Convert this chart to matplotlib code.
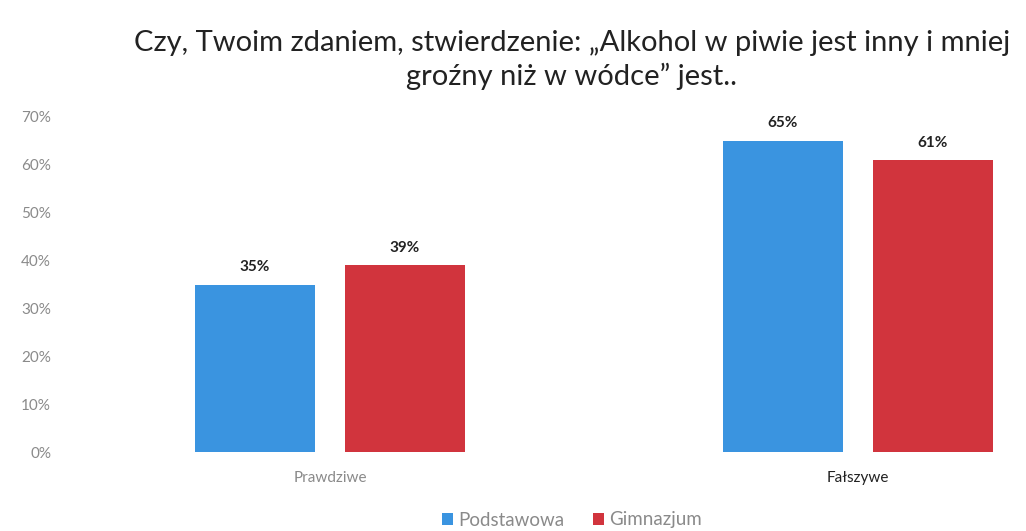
import matplotlib
matplotlib.use("Agg")
import matplotlib.pyplot as plt
import numpy as np

categories = ["Prawdziwe", "Fałszywe"]
series_names = ["Podstawowa", "Gimnazjum"]
podstawowa = [35, 65]
gimnazjum = [39, 61]
yticks = [0, 10, 20, 30, 40, 50, 60, 70]
title = "Czy, Twoim zdaniem, stwierdzenie: „Alkohol w piwie jest inny i mniej\ngroźny niż w wódce” jest.."

colors = ["#3a94e0", "#d1343d"]
plt.rcParams['font.family'] = ['Lato', 'DejaVu Sans']

W, H = 1026, 531
fig = plt.figure(figsize=(W / 100, H / 100), dpi=100)
# axes in pixel coords
left, right, bottom, top = 65, 1020, H - 452, H - 117
ax = fig.add_axes([left / W, bottom / H, (right - left) / W, (top - bottom) / H])

x = np.arange(len(categories))
unit = 858 - 330
bw = 120 / unit
off = 75 / unit
b1 = ax.bar(x - off, podstawowa, bw, color=colors[0], label=series_names[0])
b2 = ax.bar(x + off, gimnazjum, bw, color=colors[1], label=series_names[1])

for bars, vals in ((b1, podstawowa), (b2, gimnazjum)):
    for rect, v in zip(bars, vals):
        ax.text(rect.get_x() + rect.get_width() / 2, v + 2.2, f"{v}%",
                ha="center", va="bottom", fontsize=11, fontweight="bold", color="#222222")

ax.set_xlim((left - 330) / unit, (right - 330) / unit)
ax.set_ylim(0, 70)
ax.set_yticks(yticks)
ax.set_yticklabels([f"{t}%" for t in yticks], color="#8a8a8a", fontsize=11)
ax.tick_params(axis="y", length=0, pad=10)
ax.set_xticks(x)
ax.set_xticklabels(categories, fontsize=11)
ax.get_xticklabels()[0].set_color("#8a8a8a")
ax.get_xticklabels()[1].set_color("#222222")
ax.tick_params(axis="x", length=0, pad=14)
for s in ax.spines.values():
    s.set_visible(False)

fig.text(572 / W, 1 - 60 / H, title, ha="center", va="center", fontsize=21,
         color="#222222", linespacing=1.3)

leg = fig.legend(handles=[b1, b2], labels=series_names, loc="center",
                 bbox_to_anchor=(572 / W, 1 - 520 / H), ncol=2, frameon=False,
                 fontsize=13.5, handlelength=0.6, handleheight=0.6,
                 handletextpad=0.3, columnspacing=1.5)
for t in leg.get_texts():
    t.set_color("#8a8a8a")

fig.savefig("out.png", dpi=100)
